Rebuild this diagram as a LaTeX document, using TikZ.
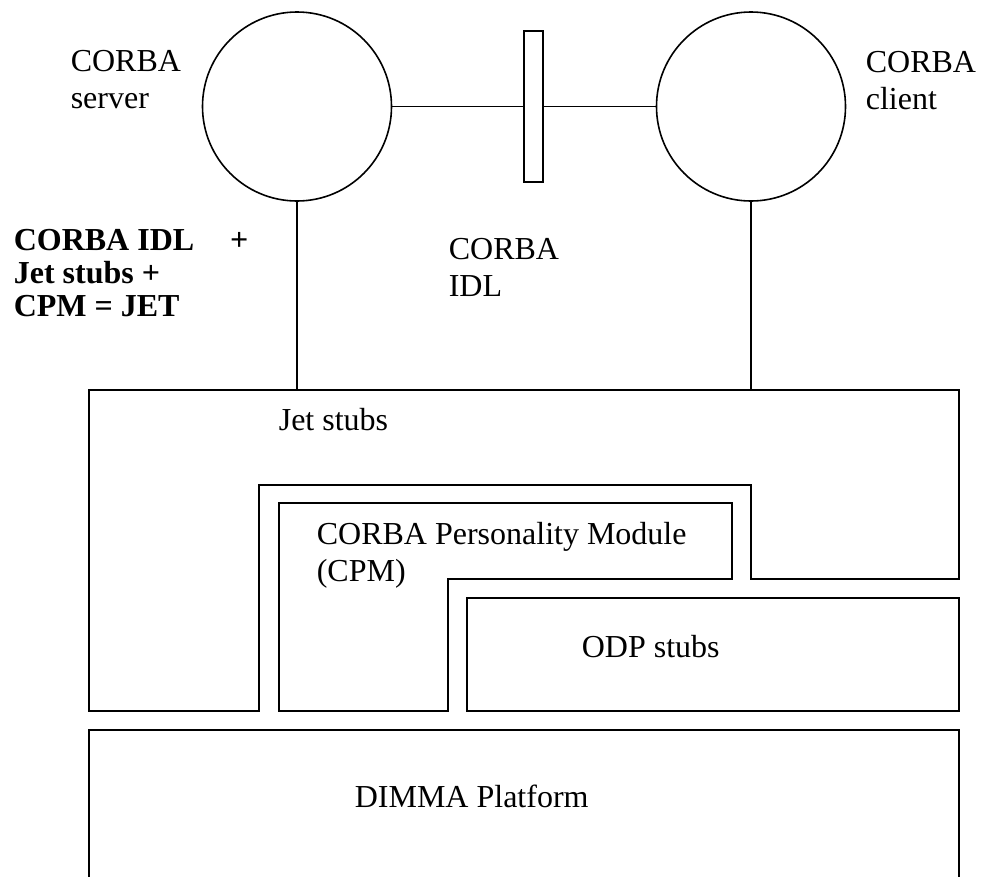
\documentclass[tikz,border=0pt]{standalone}
\usepackage{fontspec}
\setmainfont{Liberation Serif}
\begin{document}
\begin{tikzpicture}[x=1pt,y=-1pt,
    line width=1.6pt,
    % multi-line labels sit on the baseline of their last line
    lbl/.style={anchor=base west,inner sep=0pt,align=left,
      font=\fontsize{32}{37}\selectfont},
    boldlbl/.style={lbl,font=\fontsize{32}{33}\selectfont\bfseries},
    party/.style={draw,circle,minimum size=189pt,inner sep=0pt},
    bar/.style={draw,rectangle,minimum width=19pt,minimum height=151pt,inner sep=0pt}]
  \useasboundingbox (0,0) rectangle (982,876);

  % the two CORBA objects and the IDL interface between them
  \node[party] (server) at (297,106.5) {};
  \node[party] (client) at (751,106.5) {};
  \node[bar] (idlbar) at (533.5,106.5) {};
  \draw (server.east) -- (idlbar.west);
  \draw (idlbar.east) -- (client.west);

  % attachment points on the top of the Jet stubs layer
  \coordinate (jetL) at (297,390);
  \coordinate (jetR) at (751,390);
  \draw (server.south) -- (jetL);
  \draw (client.south) -- (jetR);

  % Jet stubs layer (L-shaped outline)
  \draw (89,390) -- (959,390) -- (959,579) -- (751,579) -- (751,485)
        -- (259,485) -- (259,711) -- (89,711) -- cycle;
  % CORBA Personality Module
  \draw (279,503) -- (732,503) -- (732,579) -- (448,579) -- (448,711)
        -- (279,711) -- cycle;
  % ODP stubs
  \draw (467,598) rectangle (959,711);
  % DIMMA platform (runs past the lower edge)
  \draw (89,880) -- (89,730) -- (959,730) -- (959,880);

  % labels
  \node[lbl] (lserver) at (70,108) {CORBA\\server};
  \node[lbl] (lclient) at (865,109) {CORBA\\client};
  \node[lbl] (lidl) at (448,296) {CORBA\\IDL};
  \node[boldlbl] (ljet) at (13,316)
    {CORBA IDL\hspace{28pt} +\\Jet stubs +\\CPM = JET};
  \node[lbl] (lstubs) at (278,430) {Jet stubs};
  \node[lbl] (lcpm) at (316,581) {CORBA Personality Module\\(CPM)};
  \node[lbl] (lodp) at (581,657) {ODP stubs};
  \node[lbl] (ldimma) at (354,807) {DIMMA Platform};
\end{tikzpicture}
\end{document}
